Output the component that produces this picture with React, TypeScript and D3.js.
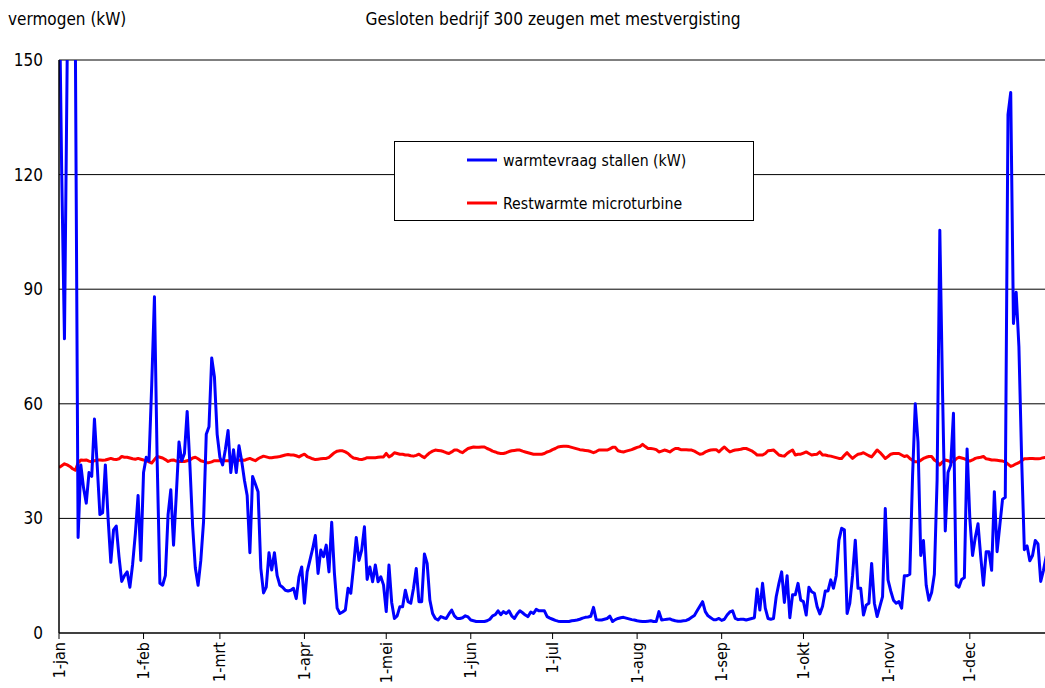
import React from "react";
import * as d3 from "d3";

// Daily heat demand of the stables (kW), 1 January onwards
const warmtevraag: number[] = [
  175, 120, 77, 150, 175, 170, 155, 25, 44, 38,
  34, 42, 41, 56, 44, 31, 31.5, 44, 30, 18.5,
  27, 28, 20, 13.5, 15, 16, 12, 18, 26, 36,
  19, 42, 46, 45, 65, 88, 45, 13, 12.5, 15,
  31, 37.5, 23, 36, 50, 45, 47, 58, 44, 28,
  17, 12.5, 19, 29, 52, 54, 72, 67, 52, 46,
  44, 48, 53, 42, 48, 42, 49, 45, 40, 36,
  21, 41, 39, 37, 17, 10.5, 12, 21, 16.5, 21,
  15, 12.5, 12, 11.2, 11, 11.2, 11.7, 9, 14.7, 17.3,
  7.8, 16, 19, 22, 25.5, 15.6, 21.7, 20, 23, 16,
  29, 15.6, 6.5, 5.1, 5.5, 6, 11.7, 10.4, 17.3, 25,
  19, 21.7, 27.8, 14, 17.3, 13.4, 17.8, 13.4, 14.7, 12.6,
  5.6, 17.8, 8, 3.8, 4.5, 6.9, 6.9, 11.2, 8.2, 7.8,
  11.7, 16.9, 8.2, 8.2, 20.7, 18.2, 8.6, 5.1, 3.8, 3.4,
  4.3, 4, 3.8, 5, 6, 4.5, 3.8, 3.8, 4, 4.5,
  4.2, 3.4, 3.2, 3, 3, 3, 3, 3.2, 3.6, 4.5,
  4.8, 5.8, 4.8, 5.6, 5.1, 5.8, 4.5, 3.8, 5, 5.8,
  5.3, 4.7, 4.3, 5.5, 5.1, 6.2, 5.8, 5.8, 5.8, 4.3,
  3.9, 3.6, 3.3, 3.1, 3, 3, 3, 3, 3.2, 3.3,
  3.4, 3.6, 3.9, 4.1, 4.2, 4.4, 6.7, 3.5, 3.4, 3.4,
  3.6, 3.8, 4.4, 3, 3.5, 3.8, 4, 4.1, 3.9, 3.7,
  3.5, 3.4, 3.2, 3.1, 3, 3, 3.1, 3.2, 3, 3,
  5.6, 3.4, 3.5, 3.6, 3.7, 3.4, 3.2, 3.1, 3.1, 3.2,
  3.3, 3.6, 4.1, 4.6, 5.8, 7, 8.2, 5.6, 4.5, 4,
  3.5, 3.5, 3.8, 3.3, 3.6, 4.7, 5.5, 5.8, 3.8, 3.5,
  3.6, 3.6, 3.4, 3.6, 3.8, 4, 11.5, 6, 13, 6.5,
  3.8, 3.6, 3.8, 9.5, 13, 16, 8, 15, 4, 10,
  10, 13, 8.6, 8.2, 4.7, 12, 10.8, 10.4, 6.9, 5,
  7, 11, 11, 13.9, 11.7, 15, 24.3, 27.4, 27, 5.1,
  7.8, 15, 24.3, 11.7, 11.7, 4.7, 7.3, 7.8, 18.2, 7.8,
  4.3, 6.9, 9.5, 32.6, 13.9, 11, 8.6, 7.8, 8.2, 6.5,
  15, 15, 15.4, 41, 60, 50, 20.3, 24.2, 12.5, 8.6,
  10.6, 15.4, 40, 105.4, 63, 26.7, 42, 44, 57.5, 12.5,
  12, 14, 14.5, 48.2, 30, 20.3, 25, 28.6, 20, 12.5,
  21.3, 21.3, 16.4, 37, 21.3, 28.2, 35, 35.5, 135.7, 141.5,
  81, 89.2, 75, 45.7, 21.8, 22.8, 18.9, 20.3, 24.2, 23.3,
  13.5, 16.4, 20, 22, 25,
];

// Daily residual heat of the microturbine (kW)
const restwarmte: number[] = [
  43.3, 43.8, 44.3, 44.0, 43.6, 43.0, 42.6, 44.5, 45.3, 45.2,
  45.3, 45.0, 44.8, 45.1, 45.3, 45.3, 45.2, 45.3, 45.5, 45.7,
  45.5, 45.4, 45.6, 46.2, 46.0, 46.0, 45.8, 45.6, 45.5, 45.7,
  45.5, 45.3, 45.2, 44.8, 44.5, 45.4, 46.2, 46.0, 45.8, 45.4,
  44.9, 45.2, 45.3, 45.0, 44.9, 44.9, 44.9, 45.1, 45.3, 45.8,
  46.0, 45.6, 45.1, 44.9, 44.6, 44.6, 44.8, 45.1, 45.1, 45.1,
  45.1, 45.1, 45.1, 45.1, 45.1, 45.1, 45.2, 45.3, 45.2, 45.5,
  45.7, 45.4, 45.1, 45.6, 46.0, 46.3, 46.1, 45.9, 45.9, 46.0,
  46.1, 46.2, 46.4, 46.6, 46.7, 46.6, 46.6, 46.4, 46.1, 46.5,
  46.8, 46.2, 45.9, 45.6, 45.4, 45.5, 45.6, 45.7, 45.7, 46.0,
  46.6, 47.2, 47.6, 47.7, 47.7, 47.4, 47.0, 46.3, 45.8, 45.7,
  45.5, 45.4, 45.6, 45.9, 45.9, 45.9, 45.9, 46.0, 46.1, 46.1,
  47.0, 46.1, 46.5, 47.2, 47.0, 46.8, 46.8, 46.6, 46.6, 46.4,
  46.3, 46.5, 46.8, 46.3, 45.9, 46.6, 47.2, 47.6, 47.9, 47.8,
  47.7, 47.5, 47.2, 47.0, 47.4, 47.9, 47.9, 47.5, 47.2, 47.8,
  48.3, 48.5, 48.7, 48.6, 48.6, 48.7, 48.7, 48.3, 48.0, 47.6,
  47.4, 47.1, 47.0, 47.0, 47.2, 47.5, 47.7, 47.8, 47.9, 47.9,
  47.6, 47.4, 47.2, 47.0, 46.8, 46.8, 46.8, 46.8, 47.0, 47.4,
  47.6, 48.0, 48.3, 48.7, 48.8, 48.9, 48.9, 48.8, 48.6, 48.4,
  48.2, 48.0, 47.9, 47.8, 47.7, 47.5, 47.2, 47.5, 47.9, 47.9,
  47.9, 47.9, 48.2, 48.6, 48.6, 47.7, 47.5, 47.4, 47.6, 47.8,
  48.0, 48.3, 48.6, 48.8, 49.4, 48.8, 48.3, 48.3, 48.2, 48.0,
  47.4, 47.6, 47.9, 47.7, 47.4, 47.9, 48.3, 48.3, 48.0, 48.0,
  48.0, 47.9, 47.9, 47.6, 47.2, 46.8, 46.9, 47.4, 47.7, 47.9,
  48.0, 48.0, 47.4, 48.1, 48.7, 48.0, 47.4, 47.7, 47.9, 48.0,
  48.1, 48.3, 48.3, 48.0, 47.7, 47.2, 46.6, 46.6, 46.6, 47.0,
  47.7, 47.8, 47.9, 47.3, 46.6, 46.4, 46.3, 47.0, 47.5, 47.9,
  46.6, 46.8, 46.8, 47.1, 47.4, 47.0, 46.6, 46.7, 46.8, 47.4,
  46.6, 46.6, 46.4, 46.3, 46.1, 45.9, 45.7, 45.7, 46.5, 47.2,
  46.4, 45.7, 46.3, 46.8, 46.9, 47.2, 46.8, 46.4, 46.1, 47.0,
  47.9, 47.3, 46.5, 45.7, 46.2, 46.8, 47.0, 47.0, 47.0, 46.6,
  46.2, 46.4, 45.7, 45.2, 44.8, 44.8, 45.2, 45.7, 46.0, 46.2,
  46.2, 45.3, 44.8, 44.0, 44.8, 45.3, 45.1, 44.8, 44.8, 45.6,
  46.0, 45.8, 45.6, 45.3, 45.0, 45.3, 45.7, 45.9, 46.0, 46.2,
  45.6, 45.5, 45.3, 45.3, 45.2, 45.1, 45.0, 44.8, 44.2, 43.6,
  43.9, 44.3, 44.6, 45.1, 45.6, 45.6, 45.7, 45.7, 45.6, 45.6,
  45.7, 45.9, 46.0, 46.0, 46.0,
];

// First day of every month (day of year) and its axis label
const monthStarts: number[] = [0, 31, 59, 90, 120, 151, 181, 212, 243, 273, 304, 334];
const monthLabels: string[] = [
  "1-jan", "1-feb", "1-mrt", "1-apr", "1-mei", "1-jun",
  "1-jul", "1-aug", "1-sep", "1-okt", "1-nov", "1-dec",
];
const yTicks: number[] = [0, 30, 60, 90, 120, 150];

const seriesNames: string[] = ["warmtevraag stallen (kW)", "Restwarmte microturbine"];
const seriesColors: string[] = ["#0000ff", "#ff0000"];

const W = 1045;
const H = 688;
const FONT = "'DejaVu Sans Condensed', 'Liberation Sans Narrow', 'Liberation Sans', sans-serif";

export default function App() {
  const left = 59;
  const top = 60;
  const bottom = 633;
  const x = d3.scaleLinear().domain([0, 365]).range([left, left + 365 * 2.727]);
  const y = d3.scaleLinear().domain([0, 150]).range([bottom, top]);

  const line = d3
    .line<number>()
    .x((_, i) => x(i))
    .y((d) => y(d));

  const plotRight = W;

  return (
    <svg
      width={W}
      height={H}
      style={{ position: "absolute", left: 0, top: 0, background: "#fff" }}
      fontFamily={FONT}
    >
      <defs>
        <clipPath id="plot-clip">
          <rect x={left} y={top} width={plotRight - left} height={bottom - top} />
        </clipPath>
      </defs>
      <rect x={0} y={0} width={W} height={H} fill="#fff" />

      {/* titles */}
      <text x={8} y={25} fontSize={17} fill="#000">
        vermogen (kW)
      </text>
      <text x={553} y={25} fontSize={17.2} fill="#000" textAnchor="middle">
        Gesloten bedrijf 300 zeugen met mestvergisting
      </text>

      {/* horizontal grid lines and y labels */}
      {yTicks.map((t) => (
        <g key={t}>
          {t > 0 && (
            <line x1={left} x2={plotRight} y1={y(t)} y2={y(t)} stroke="#000" strokeWidth={1} />
          )}
          <text
            x={43}
            y={y(t)}
            fontSize={17}
            textAnchor="end"
            dominantBaseline="central"
            fill="#000"
          >
            {t}
          </text>
        </g>
      ))}

      {/* data */}
      <g clipPath="url(#plot-clip)">
        <path
          d={line(restwarmte) ?? ""}
          fill="none"
          stroke={seriesColors[1]}
          strokeWidth={3}
          strokeLinejoin="round"
        />
        <path
          d={line(warmtevraag) ?? ""}
          fill="none"
          stroke={seriesColors[0]}
          strokeWidth={3}
          strokeLinejoin="round"
        />
      </g>

      {/* axes */}
      <line x1={left} x2={left} y1={top} y2={bottom} stroke="#000" strokeWidth={1.5} />
      <line x1={left} x2={plotRight} y1={bottom} y2={bottom} stroke="#000" strokeWidth={1.5} />

      {/* month ticks and labels */}
      {monthStarts.map((d, i) => (
        <g key={d}>
          <line x1={x(d)} x2={x(d)} y1={bottom} y2={bottom + 6} stroke="#000" strokeWidth={1} />
          <text
            transform={`translate(${x(d)},${bottom + 9}) rotate(-90)`}
            fontSize={16}
            textAnchor="end"
            dominantBaseline="central"
            fill="#000"
          >
            {monthLabels[i]}
          </text>
        </g>
      ))}

      {/* legend */}
      <g>
        <rect x={394.5} y={141.5} width={359} height={79} fill="#fff" stroke="#000" strokeWidth={1} />
        {seriesNames.map((name, i) => {
          const ly = 160 + i * 43;
          return (
            <g key={name}>
              <line x1={467} x2={497} y1={ly} y2={ly} stroke={seriesColors[i]} strokeWidth={3} />
              <text x={503} y={ly} fontSize={15.7} dominantBaseline="central" fill="#000">
                {name}
              </text>
            </g>
          );
        })}
      </g>
    </svg>
  );
}
